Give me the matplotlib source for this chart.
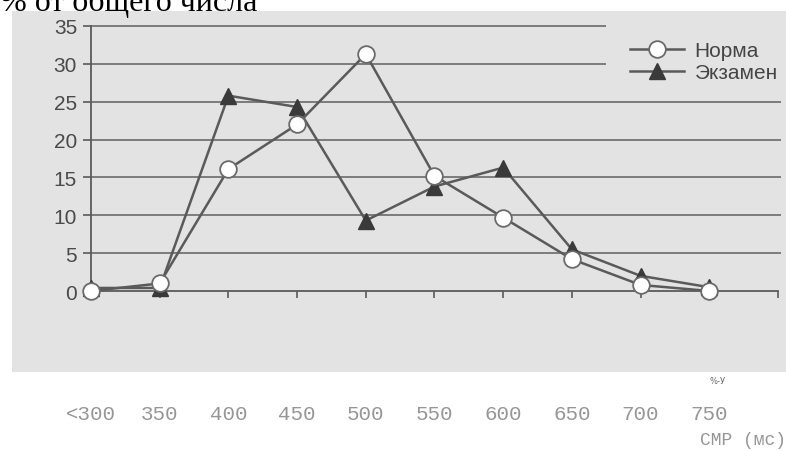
import matplotlib
matplotlib.use('Agg')
import matplotlib.pyplot as plt
from matplotlib.patches import Rectangle

# --- Dados ---
categorias = ['<300', '350', '400', '450', '500', '550', '600', '650', '700', '750']
norma = [0.0, 1.0, 16.1, 22.0, 31.3, 15.2, 9.7, 4.2, 0.8, 0.0]
exame = [0.4, 0.4, 25.8, 24.3, 9.3, 13.8, 16.3, 5.5, 2.0, 0.5]
grade_y = [5, 10, 15, 20, 25, 30, 35]

W, H = 786, 452
fig = plt.figure(figsize=(W / 100, H / 100), dpi=100)
fig.patch.set_facecolor('white')

# fundo cinza da "digitalização"
fig.patches.append(Rectangle((12 / W, 1 - 373 / H), 1 - 12 / W, (373 - 12) / H,
                             transform=fig.transFigure, facecolor='#e3e3e3',
                             edgecolor='none', zorder=-10))

ax = fig.add_axes([91 / W, 1 - 292 / H, (778 - 91) / W, (292 - 27) / H])
ax.set_facecolor('none')
ax.set_xlim(0, 10)
ax.set_ylim(0, 35)

cor_linha = '#5a5a5a'
# linhas de grade (as duas de cima param antes da legenda)
for g in grade_y:
    x_fim = 7.5 if g >= 30 else 10.05
    ax.hlines(g, 0, x_fim, color='#6a6a6a', linewidth=1.2, zorder=1, clip_on=False)

x = list(range(len(categorias)))
ax.plot(x, exame, color=cor_linha, linewidth=1.8, marker='^', markersize=11,
        markerfacecolor='#3a3a3a', markeredgecolor='#3a3a3a', label='Экзамен',
        zorder=3, clip_on=False)
ax.plot(x, norma, color=cor_linha, linewidth=1.8, marker='o', markersize=12,
        markerfacecolor='white', markeredgecolor='#6a6a6a', markeredgewidth=1.3,
        label='Норма', zorder=4, clip_on=False)

for s in ['top', 'right']:
    ax.spines[s].set_visible(False)
for s in ['left', 'bottom']:
    ax.spines[s].set_color(cor_linha)
    ax.spines[s].set_linewidth(1.3)

ax.set_yticks([0] + grade_y)
ax.set_yticklabels(['0'] + [str(g) for g in grade_y], fontsize=15,
                   family='Liberation Sans', color='#4a4a4a')
ax.tick_params(axis='y', length=6, width=1.2, color=cor_linha, pad=4)

ax.set_xticks(range(11))
ax.set_xticklabels(categorias + [''], fontsize=15, family='Liberation Mono',
                   color='#969696')
ax.tick_params(axis='x', length=5, width=1.2, color=cor_linha, pad=76)

# legenda
h, l = ax.get_legend_handles_labels()
leg = ax.legend(h[::-1], l[::-1], loc='upper left',
                bbox_to_anchor=(630 / W, 1 - 42 / H), bbox_transform=fig.transFigure,
                frameon=False, borderaxespad=0, borderpad=0, handlelength=2.6,
                handletextpad=0.5, labelspacing=0.15,
                prop={'family': 'Liberation Sans', 'size': 15})
for t in leg.get_texts():
    t.set_color('#454545')

# textos
fig.text(0.0, 1 - 11.5 / H, '% от общего числа', fontsize=23, family='Liberation Serif',
         color='black', va='baseline', ha='left')
fig.text(718 / W, 1 - 381 / H, '%-У', fontsize=6, family='DejaVu Sans',
         color='#666666', ha='center', va='center')
fig.text(1.0, 1 - 441 / H, 'СМР (мс)', fontsize=13, family='Liberation Mono',
         color='#969696', ha='right', va='center')

fig.savefig('out.png', dpi=100)
